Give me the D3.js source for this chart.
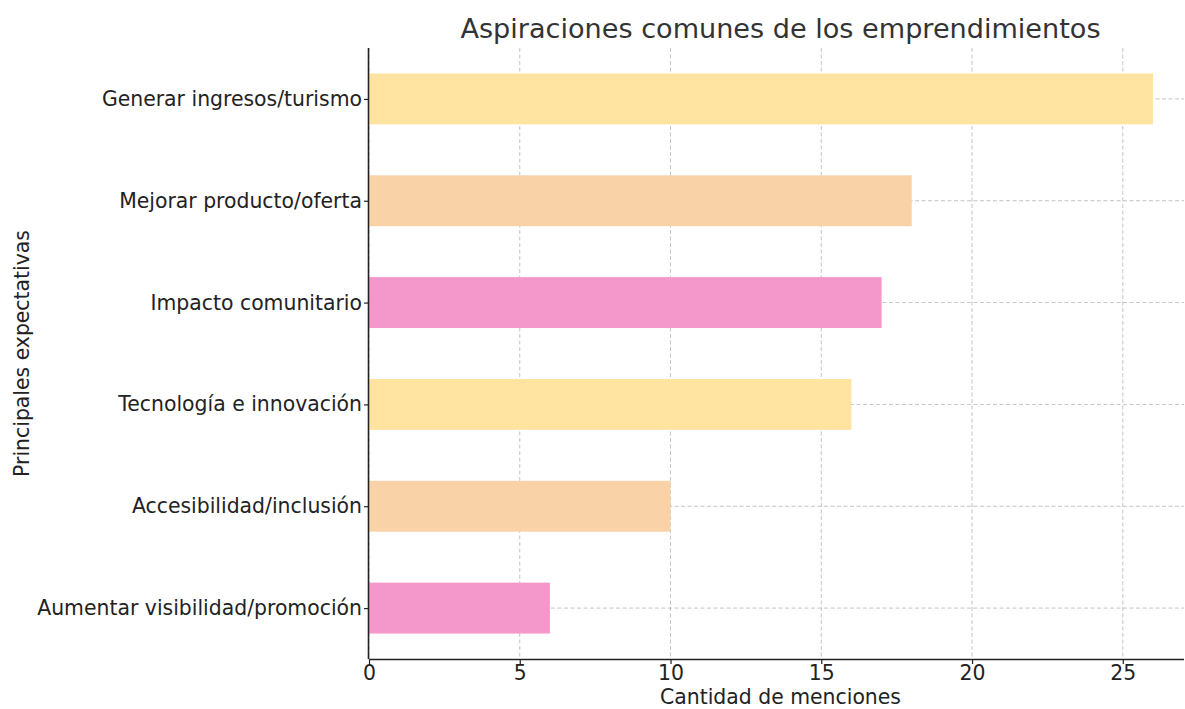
<!DOCTYPE html>
<html><head><meta charset="utf-8">
<script src="https://cdn.jsdelivr.net/npm/d3@7"></script>
<style>
body{margin:0;background:#fff;}
svg text{font-family:"DejaVu Sans",sans-serif;}
</style></head>
<body><svg id="c" width="1185" height="709"></svg>
<script>
const categories = ["Aumentar visibilidad/promoción","Accesibilidad/inclusión","Tecnología e innovación","Impacto comunitario","Mejorar producto/oferta","Generar ingresos/turismo"];
const values = [6,10,16,17,18,26];
const barColors = ["#f497cb","#f9d2a7","#ffe4a1","#f497cb","#f9d2a7","#ffe4a1"];
const xTicks = [0,5,10,15,20,25];
const title = "Aspiraciones comunes de los emprendimientos";
const xLabel = "Cantidad de menciones";
const yLabel = "Principales expectativas";

const svg = d3.select("#c");
const m = {l:369, r:1184, t:48, b:659};
const x = d3.scaleLinear().domain([0, 27.03]).range([m.l, m.r]);
const y = d3.scaleLinear().domain([-0.5, 5.5]).range([m.b, m.t]);
const bh = y(0) - y(0.5);
const fs = 20.4;

// grid
const g = svg.append("g");
g.selectAll("line.vx").data(xTicks).join("line")
  .attr("x1", d=>x(d)).attr("x2", d=>x(d)).attr("y1", m.t).attr("y2", m.b)
  .attr("stroke","#a8a8a8").attr("stroke-width",0.8).attr("stroke-dasharray","4,2.5").attr("opacity",0.85);
g.selectAll("line.hy").data(categories.map((c,i)=>i)).join("line")
  .attr("x1", m.l).attr("x2", m.r).attr("y1", d=>y(d)).attr("y2", d=>y(d))
  .attr("stroke","#a8a8a8").attr("stroke-width",0.8).attr("stroke-dasharray","4,2.5").attr("opacity",0.85);

// bars
svg.append("g").selectAll("rect").data(values).join("rect")
  .attr("x", x(0)).attr("y", (d,i)=>y(i)-bh/2)
  .attr("width", d=>x(d)-x(0)).attr("height", bh)
  .attr("fill", (d,i)=>barColors[i]);

// x axis
const xa = svg.append("g").attr("transform",`translate(0,${m.b})`)
  .call(d3.axisBottom(x).tickValues(xTicks).tickSize(5).tickPadding(2).tickFormat(d3.format("d")));
xa.select(".domain").attr("d",`M${m.l},0.5H${m.r}`).attr("stroke","#222").attr("stroke-width",1.6);
xa.selectAll(".tick line").attr("stroke","#222").attr("stroke-width",1.2);
xa.selectAll(".tick text").attr("font-size",fs).attr("fill","#222").attr("font-family","DejaVu Sans");

// y axis
const ya = svg.append("g").attr("transform",`translate(${m.l},0)`)
  .call(d3.axisLeft(y).tickValues(d3.range(categories.length)).tickSize(5).tickPadding(2).tickFormat(i=>categories[i]));
ya.select(".domain").attr("d",`M-0.5,${m.t}V${m.b}`).attr("stroke","#222").attr("stroke-width",1.6);
ya.selectAll(".tick line").attr("stroke","#222").attr("stroke-width",1.2);
ya.selectAll(".tick text").attr("font-size",fs).attr("fill","#222").attr("font-family","DejaVu Sans");

// title & labels
svg.append("text").attr("x",(m.l+m.r)/2+4).attr("y",38).attr("text-anchor","middle")
  .attr("font-size",27.1).attr("fill","#333").text(title);
svg.append("text").attr("x",(m.l+m.r)/2+4).attr("y",704).attr("text-anchor","middle")
  .attr("font-size",fs).attr("fill","#222").text(xLabel);
svg.append("text").attr("transform",`translate(29,${(m.t+m.b)/2}) rotate(-90)`).attr("text-anchor","middle")
  .attr("font-size",fs).attr("fill","#222").text(yLabel);
</script></body></html>
